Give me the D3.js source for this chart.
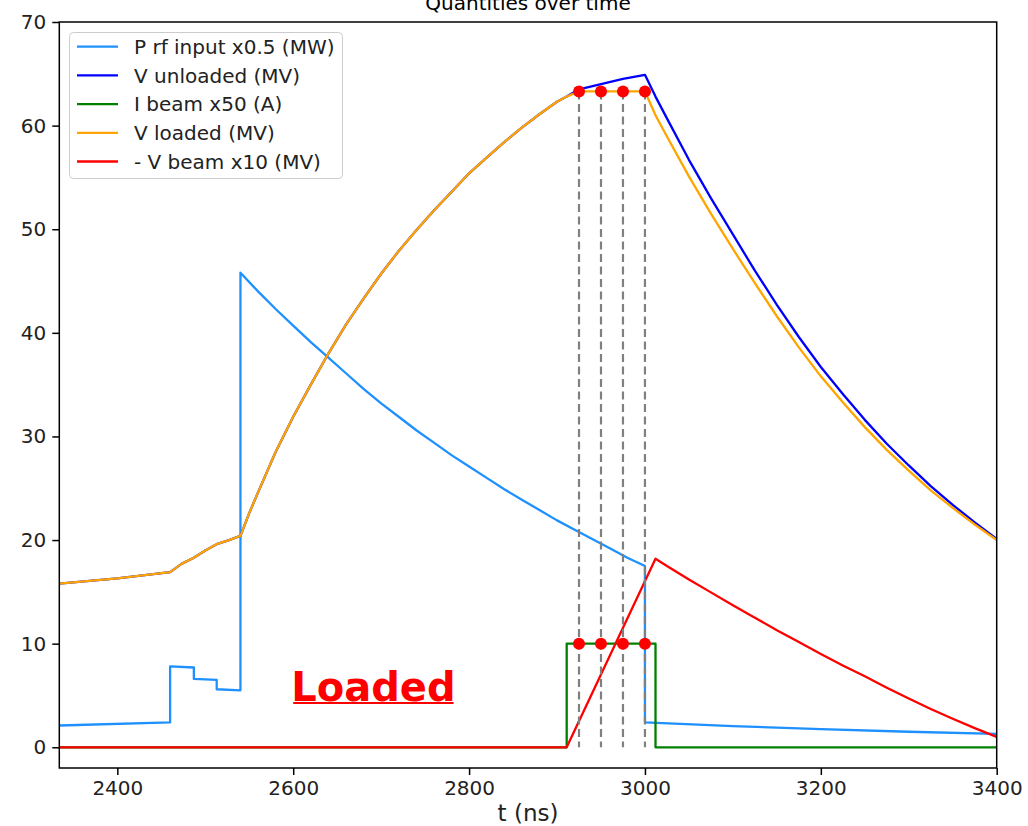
<!DOCTYPE html>
<html>
<head>
<meta charset="utf-8">
<script src="https://cdn.jsdelivr.net/npm/d3@7"></script>
<style>
  body { margin: 0; background: #fff; }
  text { font-family: "DejaVu Sans", sans-serif; }
</style>
</head>
<body>
<script>
// values, [t (ns), value]
const pRfInput = [
  [2334, 2.1], [2460, 2.4], [2460, 7.8], [2487, 7.7], [2487, 6.6], [2513, 6.5],
  [2513, 5.6], [2540, 5.5], [2540, 45.8], [2560, 44.0], [2580, 42.3], [2600, 40.7],
  [2620, 39.1], [2640, 37.6], [2660, 36.1], [2680, 34.6], [2700, 33.2], [2720, 31.9],
  [2740, 30.6], [2760, 29.4], [2780, 28.2], [2800, 27.1], [2820, 26.0], [2840, 24.9],
  [2860, 23.9], [2880, 22.9], [2900, 21.9], [2920, 21.0], [2940, 20.1], [2960, 19.2],
  [2980, 18.3], [3000, 17.5], [3000, 2.4], [3100, 2.05], [3200, 1.75], [3300, 1.5],
  [3400, 1.3]
];

const vUnloaded = [
  [2334, 15.8], [2400, 16.3], [2460, 16.9], [2473, 17.7], [2487, 18.3], [2500, 19.0],
  [2513, 19.6], [2527, 20.0], [2540, 20.4], [2550, 22.6], [2560, 24.6], [2580, 28.5],
  [2600, 31.9], [2620, 35.0], [2640, 38.0], [2660, 40.8], [2680, 43.3], [2700, 45.7],
  [2720, 47.9], [2740, 49.9], [2760, 51.8], [2780, 53.6], [2800, 55.4], [2820, 56.9],
  [2840, 58.4], [2860, 59.8], [2880, 61.1], [2900, 62.3], [2911, 62.8], [2925, 63.5],
  [2950, 64.0], [2975, 64.5], [3000, 64.9], [3012, 62.8], [3025, 60.7], [3050, 56.7],
  [3075, 53.0], [3100, 49.5], [3125, 46.0], [3150, 42.7], [3175, 39.6], [3200, 36.7],
  [3225, 34.1], [3250, 31.6], [3275, 29.3], [3300, 27.2], [3325, 25.2], [3350, 23.4],
  [3375, 21.7], [3400, 20.1]
];

const iBeam = [
  [2334, 0], [2911, 0], [2911, 10], [3012, 10], [3012, 0], [3400, 0]
];

const vLoaded = [
  [2334, 15.8], [2400, 16.3], [2460, 16.9], [2473, 17.7], [2487, 18.3], [2500, 19.0],
  [2513, 19.6], [2527, 20.0], [2540, 20.4], [2550, 22.6], [2560, 24.6], [2580, 28.5],
  [2600, 31.9], [2620, 35.0], [2640, 38.0], [2660, 40.8], [2680, 43.3], [2700, 45.7],
  [2720, 47.9], [2740, 49.9], [2760, 51.8], [2780, 53.6], [2800, 55.4], [2820, 56.9],
  [2840, 58.4], [2860, 59.8], [2880, 61.1], [2900, 62.3], [2911, 62.8], [2925, 63.3],
  [3000, 63.3], [3012, 61.0], [3025, 58.95], [3050, 55.1], [3075, 51.5], [3100, 48.1],
  [3125, 44.8], [3150, 41.6], [3175, 38.6], [3200, 35.8], [3225, 33.3], [3250, 30.9],
  [3275, 28.7], [3300, 26.7], [3325, 24.8], [3350, 23.1], [3375, 21.5], [3400, 20.0]
];

const vBeam = [
  [2334, 0], [2911, 0], [3012, 18.2], [3025, 17.5], [3050, 16.2], [3075, 14.95],
  [3100, 13.7], [3125, 12.5], [3150, 11.3], [3175, 10.15], [3200, 9.0], [3225, 7.9],
  [3250, 6.85], [3275, 5.75], [3300, 4.7], [3325, 3.7], [3350, 2.75], [3375, 1.85],
  [3400, 1.0]
];

const bunchTimes = [2925, 2950, 2975, 3000];
const bunchV = 63.3;
const bunchI = 10;

const seriesNames = ["P rf input x0.5 (MW)", "V unloaded (MV)", "I beam x50 (A)", "V loaded (MV)", "- V beam x10 (MV)"];
const seriesColors = ["#1e90ff", "#0000ff", "#008000", "#ffa500", "#ff0000"];
const seriesData = [pRfInput, vUnloaded, iBeam, vLoaded, vBeam];

const xTicks = [2400, 2600, 2800, 3000, 3200, 3400];
const yTicks = [0, 10, 20, 30, 40, 50, 60, 70];

const W = 1028, H = 826;
const mLeft = 59.3, mRight = 996.7, mTop = 22, mBottom = 768;

const svg = d3.select("body").append("svg")
  .attr("width", W).attr("height", H);

const x = d3.scaleLinear().domain([2334, 3400]).range([mLeft, mRight]);
const y = d3.scaleLinear().domain([-2, 70]).range([mBottom, mTop]);

svg.append("defs").append("clipPath").attr("id", "plot")
  .append("rect")
  .attr("x", mLeft).attr("y", mTop)
  .attr("width", mRight - mLeft).attr("height", mBottom - mTop);

// title (cut at the top in the reference)
svg.append("text")
  .attr("x", (mLeft + mRight) / 2).attr("y", 10)
  .attr("text-anchor", "middle")
  .attr("font-size", 20)
  .attr("fill", "#000")
  .text("Quantities over time");

const line = d3.line().x(d => x(d[0])).y(d => y(d[1]));

const plot = svg.append("g").attr("clip-path", "url(#plot)");

seriesData.forEach((s, i) => {
  plot.append("path")
    .datum(s)
    .attr("d", line)
    .attr("fill", "none")
    .attr("stroke", seriesColors[i])
    .attr("stroke-width", 2.3)
    .attr("stroke-linejoin", "round");
});

// bunch markers
plot.selectAll("line.bunch")
  .data(bunchTimes)
  .enter()
  .append("line")
  .attr("class", "bunch")
  .attr("x1", d => x(d)).attr("x2", d => x(d))
  .attr("y1", y(bunchV)).attr("y2", y(0))
  .attr("stroke", "#808080")
  .attr("stroke-width", 2.2)
  .attr("stroke-dasharray", "8,4.5");

[bunchV, bunchI].forEach((v, k) => {
  plot.selectAll("circle.b" + k)
    .data(bunchTimes)
    .enter()
    .append("circle")
    .attr("class", "b" + k)
    .attr("cx", d => x(d))
    .attr("cy", y(v))
    .attr("r", 6)
    .attr("fill", "#ff0000");
});

// axes
const xAxis = d3.axisBottom(x).tickValues(xTicks).tickFormat(d3.format("d")).tickSize(7).tickPadding(6);
const yAxis = d3.axisLeft(y).tickValues(yTicks).tickFormat(d3.format("d")).tickSize(7).tickPadding(6);

const gx = svg.append("g")
  .attr("transform", "translate(0," + mBottom + ")")
  .call(xAxis);
const gy = svg.append("g")
  .attr("transform", "translate(" + mLeft + ",0)")
  .call(yAxis);

[gx, gy].forEach(g => {
  g.select(".domain").remove();
  g.selectAll("line").attr("stroke", "#000").attr("stroke-width", 1.5);
  g.selectAll("text").attr("font-size", 20).attr("fill", "#222")
    .style("font-family", "DejaVu Sans, sans-serif");
});

svg.append("rect")
  .attr("x", mLeft).attr("y", mTop)
  .attr("width", mRight - mLeft).attr("height", mBottom - mTop)
  .attr("fill", "none")
  .attr("stroke", "#000")
  .attr("stroke-width", 1.5);

svg.append("text")
  .attr("x", (mLeft + mRight) / 2).attr("y", 821)
  .attr("text-anchor", "middle")
  .attr("font-size", 23)
  .attr("fill", "#222")
  .text("t (ns)");

// "Loaded" annotation
const lab = svg.append("text")
  .attr("x", x(2600) - 2).attr("y", 701)
  .attr("font-size", 40)
  .attr("font-weight", "bold")
  .attr("fill", "#ff0000")
  .text("Loaded");
const lw = lab.node().getComputedTextLength();
svg.append("line")
  .attr("x1", x(2600)).attr("x2", x(2600) - 2 + lw - 2)
  .attr("y1", 703).attr("y2", 703)
  .attr("stroke", "#ff0000").attr("stroke-width", 1.8);

// legend
const legend = svg.append("g");
legend.append("rect")
  .attr("x", 69.5).attr("y", 32.5)
  .attr("width", 273).attr("height", 146)
  .attr("rx", 4)
  .attr("fill", "#fff").attr("fill-opacity", 0.8)
  .attr("stroke", "#cccccc").attr("stroke-width", 1);

seriesNames.forEach((name, i) => {
  const ry = 46.7 + i * 28.7;
  legend.append("line")
    .attr("x1", 77).attr("x2", 118)
    .attr("y1", ry).attr("y2", ry)
    .attr("stroke", seriesColors[i]).attr("stroke-width", 2.3);
  legend.append("text")
    .attr("x", 134).attr("y", ry)
    .attr("dy", "0.36em")
    .attr("font-size", 20)
    .attr("fill", "#222")
    .text(name);
});
</script>
</body>
</html>
